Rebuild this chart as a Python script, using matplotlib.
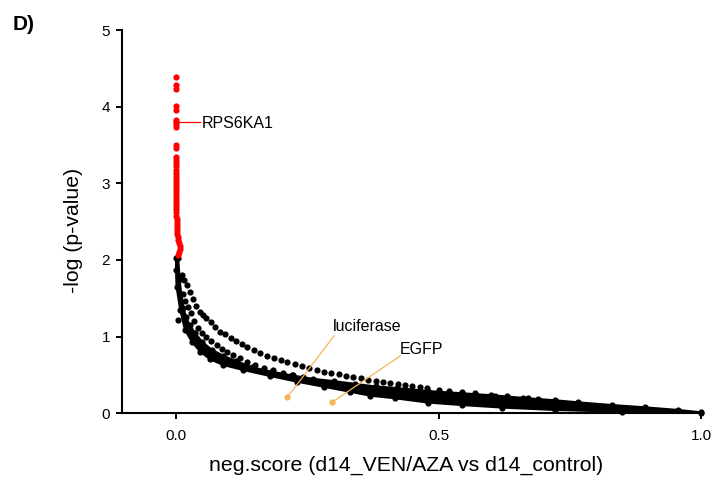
import numpy as np
import matplotlib
matplotlib.use("Agg")
import matplotlib.pyplot as plt

plt.rcParams['font.family'] = ['Liberation Sans', 'DejaVu Sans']

# Significant hits (red), all at neg.score ~ 0
red_x = [0.0, 0.0, 0.0, 0.0, 0.0, 0.0, 0.0, 0.0, 0.0, 0.0, 0.0, 0.0, 0.0, 0.0,
         0.0, 0.0, 0.0, 0.0, 0.0, 0.0, 0.0, 0.0, 0.0, 0.0, 0.0, 0.0, 0.0, 0.0,
         0.0, 0.0, 0.0, 0.001, 0.001, 0.001, 0.001, 0.002, 0.002, 0.003, 0.004,
         0.006, 0.008, 0.007, 0.006, 0.004]
red_y = [4.39, 4.28, 4.23, 4.01, 3.95, 3.82, 3.80, 3.77, 3.74, 3.50, 3.46, 3.34,
         3.30, 3.26, 3.22, 3.18, 3.14, 3.10, 3.06, 3.02, 2.98, 2.94, 2.90, 2.86,
         2.82, 2.78, 2.74, 2.70, 2.66, 2.62, 2.58, 2.54, 2.50, 2.46, 2.42, 2.38,
         2.34, 2.30, 2.26, 2.22, 2.18, 2.14, 2.10, 2.07]

# Upper sparse curve of genes
curve_a_x = [0.012, 0.016, 0.020, 0.026, 0.032, 0.039, 0.046, 0.052, 0.058, 0.066,
             0.075, 0.084, 0.094, 0.104, 0.114, 0.125, 0.136, 0.148, 0.160, 0.173,
             0.186, 0.200, 0.212, 0.226, 0.240, 0.254, 0.268, 0.282, 0.296, 0.310,
             0.324, 0.338, 0.352, 0.366, 0.380, 0.394, 0.408, 0.422, 0.436, 0.450,
             0.464, 0.478, 0.500, 0.520, 0.544, 0.570, 0.600, 0.630, 0.660, 0.690]
curve_a_y = [1.80, 1.74, 1.68, 1.58, 1.49, 1.40, 1.32, 1.28, 1.24, 1.19,
             1.12, 1.065, 1.03, 0.98, 0.94, 0.90, 0.87, 0.825, 0.785, 0.75,
             0.715, 0.69, 0.665, 0.64, 0.615, 0.59, 0.565, 0.545, 0.525, 0.51,
             0.49, 0.475, 0.46, 0.44, 0.425, 0.41, 0.395, 0.38, 0.365, 0.35,
             0.34, 0.33, 0.31, 0.295, 0.28, 0.262, 0.242, 0.222, 0.205, 0.19]

# Second sparse curve, just above the main band
curve_b_x = [0.014, 0.018, 0.0235, 0.028, 0.034, 0.042, 0.050, 0.058, 0.067, 0.0775,
             0.087, 0.0965, 0.109, 0.122, 0.136, 0.150, 0.167, 0.185, 0.204, 0.223,
             0.242, 0.262, 0.281, 0.300, 0.322, 0.344, 0.363, 0.385, 0.405, 0.425]
curve_b_y = [1.55, 1.47, 1.39, 1.31, 1.21, 1.11, 1.05, 1.00, 0.945, 0.89,
             0.845, 0.805, 0.76, 0.717, 0.672, 0.63, 0.597, 0.565, 0.532, 0.50,
             0.467, 0.434, 0.412, 0.39, 0.368, 0.347, 0.326, 0.31, 0.295, 0.28]

# Dense main band of genes: upper and lower envelope
band_top_x = [0.004, 0.007, 0.010, 0.014, 0.019, 0.026, 0.036, 0.050, 0.068, 0.090,
              0.115, 0.145, 0.180, 0.220, 0.260, 0.300, 0.340, 0.380, 0.420, 0.480,
              0.544, 0.608, 0.671, 0.722, 0.766, 0.830, 0.893, 0.957, 1.000]
band_top_y = [2.03, 1.75, 1.55, 1.38, 1.26, 1.15, 1.05, 0.93, 0.83, 0.75,
              0.68, 0.60, 0.545, 0.495, 0.45, 0.42, 0.385, 0.35, 0.33, 0.29,
              0.262, 0.232, 0.195, 0.17, 0.143, 0.108, 0.078, 0.043, 0.013]
band_bot_x = [0.000, 0.000, 0.001, 0.008, 0.017, 0.030, 0.046, 0.065, 0.090, 0.128,
              0.179, 0.230, 0.281, 0.331, 0.370, 0.417, 0.480, 0.544, 0.620, 0.722,
              0.850, 1.000]
band_bot_y = [2.03, 1.87, 1.65, 1.35, 1.09, 0.935, 0.805, 0.705, 0.63, 0.565,
              0.487, 0.413, 0.347, 0.282, 0.23, 0.196, 0.14, 0.108, 0.075, 0.043,
              0.02, 0.0]

# Isolated gene
outlier_x = [0.004]
outlier_y = [1.22]

# Labelled genes
hit_name, hit_x, hit_y = "RPS6KA1", 0.0, 3.80
ctrl_names = ["luciferase", "EGFP"]
ctrl_x = [0.212, 0.297]
ctrl_y = [0.209, 0.143]

x_ticks = [0.0, 0.5, 1.0]
x_ticklabels = ["0.0", "0.5", "1.0"]
y_ticks = [0, 1, 2, 3, 4, 5]

RED = "#FF0000"
ORANGE = "#F7B455"
MS = 20

fig = plt.figure(figsize=(7.12, 4.86), dpi=100)
ax = fig.add_axes([122 / 712, 1 - 413.3 / 486, (701 - 122) / 712, (413.3 - 30) / 486])

poly_x = np.concatenate([band_top_x, band_bot_x[::-1]])
poly_y = np.concatenate([band_top_y, band_bot_y[::-1]])
ax.fill(poly_x, poly_y, color="black", lw=1.5, zorder=2)
ax.scatter(band_top_x, band_top_y, s=MS, c="black", lw=0, zorder=2, clip_on=False)
ax.scatter(band_bot_x, band_bot_y, s=MS, c="black", lw=0, zorder=2, clip_on=False)
ax.scatter(curve_a_x, curve_a_y, s=MS, c="black", lw=0, zorder=3)
ax.scatter(curve_b_x, curve_b_y, s=MS, c="black", lw=0, zorder=3)
ax.scatter(outlier_x, outlier_y, s=MS, c="black", lw=0, zorder=3)
ax.scatter(red_x, red_y, s=MS, c=RED, lw=0, zorder=4)

# Hit label with leader line
ax.plot([hit_x + 0.004, hit_x + 0.046], [hit_y, hit_y], color=RED, lw=0.9, zorder=4)
ax.text(hit_x + 0.049, hit_y - 0.02, hit_name, fontsize=11.5, va="center", ha="left")

# Control genes with leader lines
label_pos = [(0.299, 1.126), (0.427, 0.827)]
line_end = [(0.301, 1.01), (0.427, 0.748)]
for name, cx, cy, (lx, ly), (ex, ey) in zip(ctrl_names, ctrl_x, ctrl_y, label_pos, line_end):
    ax.scatter([cx], [cy], s=MS, c=ORANGE, lw=0, zorder=5)
    ax.plot([cx, ex], [cy, ey], color=ORANGE, lw=0.9, zorder=5)
    ax.text(lx, ly, name, fontsize=11.5, va="center", ha="left")

ax.set_xlim(-0.1029, 1.0)
ax.set_ylim(0, 5)
ax.set_xticks(x_ticks)
ax.set_xticklabels(x_ticklabels)
ax.set_yticks(y_ticks)
for s in ["top", "right"]:
    ax.spines[s].set_visible(False)
for s in ["left", "bottom"]:
    ax.spines[s].set_linewidth(1.5)
ax.tick_params(axis="both", labelsize=11, width=1.4, length=4.5)
ax.tick_params(axis="x", pad=7)
ax.tick_params(axis="y", pad=4)

ax.set_xlabel("neg.score (d14_VEN/AZA vs d14_control)", fontsize=15.3, labelpad=11)
ax.xaxis.set_label_coords(0.4905, -0.112)
ax.set_ylabel("-log (p-value)", fontsize=15.3)
ax.yaxis.set_label_coords(-0.0846, 0.478)
ax.yaxis.label.set_va("center")

fig.text(13 / 712, 1 - 25 / 486, "D)", fontsize=15, fontweight="bold", va="center", ha="left")

fig.savefig("out.png", dpi=100)
